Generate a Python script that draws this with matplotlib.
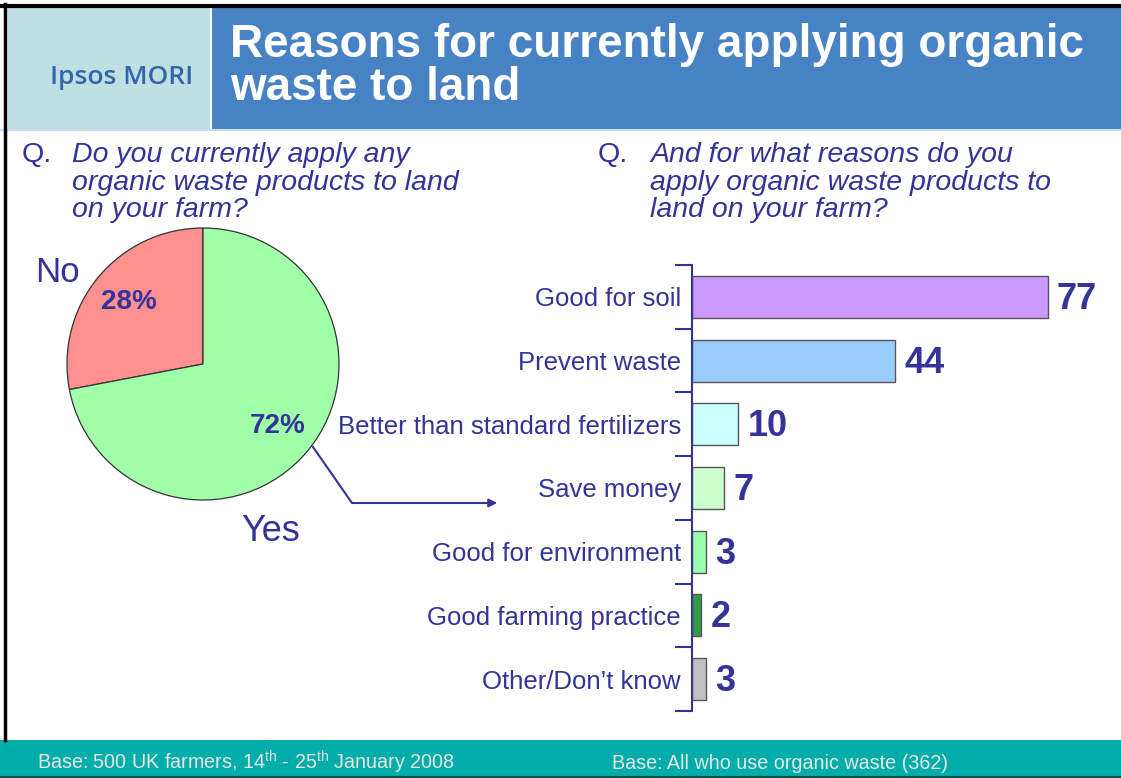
import matplotlib
matplotlib.use("Agg")
import matplotlib.pyplot as plt
from matplotlib.patches import Rectangle

plt.rcParams['font.family'] = ['Liberation Sans', 'DejaVu Sans']
plt.rcParams['mathtext.fontset'] = 'custom'
plt.rcParams['mathtext.rm'] = 'Liberation Sans'

# pie data
pie_labels = ['No', 'Yes']
pie_values = [28, 72]
pie_colors = ['#FF9090', '#A0FFA8']

# bar data (top to bottom)
reasons = ['Good for soil', 'Prevent waste', 'Better than standard fertilizers',
           'Save money', 'Good for environment', 'Good farming practice',
           'Other/Don\u2019t know']
reason_values = [77, 44, 10, 7, 3, 2, 3]
reason_colors = ['#CC99FF', '#99CCFF', '#CCFFFF', '#CCFFCC', '#99FFAA',
                 '#339944', '#C0C0C0']

NAVY = '#333399'
W, H = 1121, 778

fig = plt.figure(figsize=(W / 100, H / 100), dpi=100)

# background layer in pixel coordinates
bg = fig.add_axes([0, 0, 1, 1])
bg.set_xlim(0, W)
bg.set_ylim(H, 0)
bg.axis('off')

bg.add_patch(Rectangle((8, 8), 202, 121, facecolor='#BEE0E0', edgecolor='none'))
bg.add_patch(Rectangle((212, 8), W - 212, 121, facecolor='#4682C4', edgecolor='none'))
bg.plot([0, W], [130, 130], color='#C6DDF0', lw=1.5)
bg.add_patch(Rectangle((0, 740), W, 38, facecolor='#00ADA8', edgecolor='none'))
bg.plot([0, W], [777, 777], color='#0B4F4C', lw=1.5)
bg.plot([0, W], [5.5, 5.5], color='black', lw=3)
bg.plot([5, 5], [4, 740], color='black', lw=2.5)

bg.text(122, 77, 'Ipsos MORI', fontsize=19, color='#3464B0', ha='center',
        va='center', family=['Open Sans', 'DejaVu Sans'], fontweight='semibold')
bg.text(230, 57, 'Reasons for currently applying organic', fontsize=33,
        color='white', fontweight='bold', va='baseline')
bg.text(230, 100, 'waste to land', fontsize=33, color='white',
        fontweight='bold', va='baseline')

q_left = ['Do you currently apply any', 'organic waste products to land',
          'on your farm?']
q_right = ['And for what reasons do you', 'apply organic waste products to',
           'land on your farm?']
for x_q, x_t, lines in [(22, 72, q_left), (598, 650, q_right)]:
    bg.text(x_q, 162, 'Q.', fontsize=20.5, color=NAVY, va='baseline')
    for i, line in enumerate(lines):
        bg.text(x_t, 162 + i * 27.5, line, fontsize=20.5, color=NAVY,
                style='italic', va='baseline')

foot_kw = dict(fontsize=14.2, color='#E6E6E6', va='baseline')
bg.text(37, 769, r'Base: 500 UK farmers, 14$^{\mathrm{th}}$ - 25$^{\mathrm{th}}$ January 2008',
        **foot_kw)
bg.text(612, 769, 'Base: All who use organic waste (362)', **foot_kw)

# arrow from the "Yes" slice towards the bar chart
bg.plot([313, 352, 492], [447, 503, 503], color=NAVY, lw=1.5)
bg.annotate('', xy=(500, 503), xytext=(488, 503),
            arrowprops=dict(arrowstyle='-|>', color=NAVY, lw=1.5,
                            mutation_scale=12))

# pie chart
cx, cy, r = 203, 364, 136
ax_pie = fig.add_axes([(cx - r) / W, (H - cy - r) / H, 2 * r / W, 2 * r / H])
wedges, _, pct = ax_pie.pie(pie_values, colors=pie_colors, startangle=90,
                            counterclock=True, autopct='%d%%', pctdistance=0.71,
                            wedgeprops=dict(edgecolor='#333333', linewidth=0.9))
for t in pct:
    t.set_color(NAVY)
    t.set_fontweight('bold')
    t.set_fontsize(20)
ax_pie.set_xlim(-1, 1)
ax_pie.set_ylim(-1, 1)
ax_pie.text(-1.07, 0.67, pie_labels[0], fontsize=25, color=NAVY,
            ha='center', va='center')
ax_pie.text(0.5, -1.23, pie_labels[1], fontsize=26, color=NAVY,
            ha='center', va='center')

# horizontal bar chart
x0, x1, y0, y1 = 692, 1100, 265, 711
ax = fig.add_axes([x0 / W, (H - y1) / H, (x1 - x0) / W, (y1 - y0) / H])
ax.patch.set_alpha(0)
pos = list(range(len(reasons)))
ax.barh(pos, reason_values, height=0.66, color=reason_colors,
        edgecolor='#555555', linewidth=1)
ax.set_xlim(0, (x1 - x0) / 4.62)
ax.set_ylim(len(reasons) - 0.5, -0.5)
for p, v in zip(pos, reason_values):
    ax.text(v + 2.0, p + 0.04, str(v), fontsize=26, fontweight='bold',
            color=NAVY, va='center', ha='left')

ax.set_yticks(pos)
ax.set_yticklabels(reasons, fontsize=18.5, color=NAVY)
ax.set_yticks([p - 0.5 for p in pos] + [len(reasons) - 0.5], minor=True)
ax.tick_params(axis='y', which='major', length=0, pad=8)
ax.tick_params(axis='y', which='minor', length=12, width=1.5, color=NAVY)
ax.set_xticks([])
for side in ['top', 'right', 'bottom']:
    ax.spines[side].set_visible(False)
ax.spines['left'].set_color(NAVY)
ax.spines['left'].set_linewidth(1.5)

fig.savefig('out.png', dpi=100)
